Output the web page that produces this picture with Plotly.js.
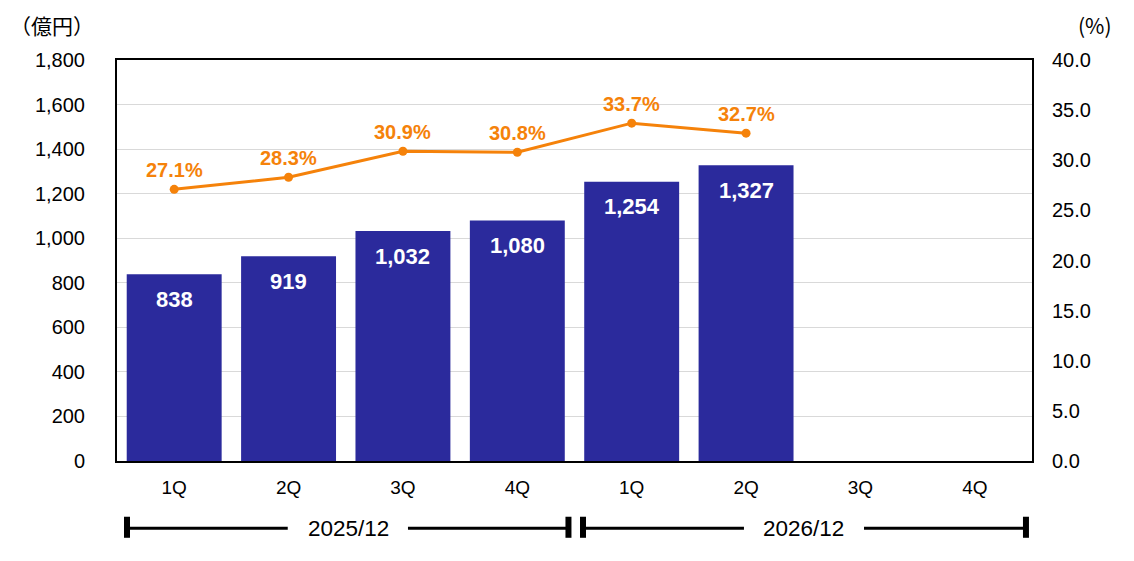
<!DOCTYPE html>
<html>
<head>
<meta charset="utf-8">
<script src="https://cdn.plot.ly/plotly-3.0.1.min.js"></script>
<style>html,body{margin:0;padding:0;background:#fff;}#chart{width:1134px;height:561px;}</style>
</head>
<body>
<div id="chart"></div>
<script>
// ---- data ----
var quarterLabels = ['1Q', '2Q', '3Q', '4Q', '1Q', '2Q', '3Q', '4Q'];
var fiscalYears = ['2025/12', '2026/12'];
var salesValues = [838, 919, 1032, 1080, 1254, 1327];       // 億円
var ratioValues = [27.1, 28.3, 30.9, 30.8, 33.7, 32.7];     // %
var leftTicks = [0, 200, 400, 600, 800, 1000, 1200, 1400, 1600, 1800];
var rightTicks = [0, 5, 10, 15, 20, 25, 30, 35, 40];

// ---- styling ----
var FONT = 'Arial, "Liberation Sans", sans-serif';
var CJK = '"Noto Sans CJK JP", Arial, sans-serif';
var BAR = '#2B2A9C';
var ORANGE = '#F5820A';

var xs = salesValues.map(function (_, i) { return i; });
var xr = ratioValues.map(function (_, i) { return i; });

var traces = [
  {
    type: 'bar', x: xs, y: salesValues, marker: { color: BAR },
    hoverinfo: 'none', showlegend: false
  },
  {
    type: 'scatter', mode: 'lines+markers', x: xr, y: ratioValues, yaxis: 'y2',
    line: { color: ORANGE, width: 3 }, marker: { color: ORANGE, size: 9 },
    hoverinfo: 'none', showlegend: false
  }
];

var annotations = [];
salesValues.forEach(function (v, i) {
  annotations.push({
    x: i, y: v, xref: 'x', yref: 'y', yanchor: 'middle', yshift: -25,
    text: v.toLocaleString('en-US'), showarrow: false,
    font: { family: FONT, size: 22, color: '#fff', weight: 'bold' }
  });
});
ratioValues.forEach(function (v, i) {
  annotations.push({
    x: i, y: v, xref: 'x', yref: 'y2', yanchor: 'middle', yshift: 19,
    text: v.toFixed(1) + '%', showarrow: false,
    font: { family: FONT, size: 20, color: ORANGE, weight: 'bold' }
  });
});
// unit labels
annotations.push({ xref: 'paper', yref: 'paper', x: -0.071, y: 1.087, xanchor: 'center', yanchor: 'middle',
  text: '（億円）', showarrow: false, font: { family: CJK, size: 21, color: '#000' } });
annotations.push({ xref: 'paper', yref: 'paper', x: 1.0688, y: 1.087, xanchor: 'center', yanchor: 'middle',
  text: '(%)', showarrow: false, font: { family: CJK, size: 21, color: '#000' } });

// fiscal year brackets (paper coords)
var bracketY = -0.168, capTop = -0.139, capBot = -0.1915;
var brackets = [
  { a: 0.0109, b: 0.4934, gapL: 0.1866, gapR: 0.318, mid: 0.253 },
  { a: 0.5093, b: 0.9934, gapL: 0.6852, gapR: 0.8164, mid: 0.7508 }
];
var shapes = [];
brackets.forEach(function (br, k) {
  shapes.push({ type: 'line', xref: 'paper', yref: 'paper', x0: br.a, x1: br.gapL, y0: bracketY, y1: bracketY, line: { color: '#000', width: 3 } });
  shapes.push({ type: 'line', xref: 'paper', yref: 'paper', x0: br.gapR, x1: br.b, y0: bracketY, y1: bracketY, line: { color: '#000', width: 3 } });
  shapes.push({ type: 'line', xref: 'paper', yref: 'paper', x0: br.a, x1: br.a, y0: capTop, y1: capBot, line: { color: '#000', width: 6 } });
  shapes.push({ type: 'line', xref: 'paper', yref: 'paper', x0: br.b, x1: br.b, y0: capTop, y1: capBot, line: { color: '#000', width: 6 } });
  annotations.push({ xref: 'paper', yref: 'paper', x: br.mid, y: bracketY, xanchor: 'center', yanchor: 'middle',
    text: fiscalYears[k], showarrow: false, font: { family: FONT, size: 22.5, color: '#000' } });
});

var layout = {
  width: 1134, height: 561,
  margin: { l: 117, r: 102, t: 60, b: 100 },
  paper_bgcolor: '#fff', plot_bgcolor: '#fff',
  font: { family: FONT, size: 20, color: '#000' },
  bargap: 0.17,
  showlegend: false,
  xaxis: {
    range: [-0.5, 7.5], tickmode: 'array',
    tickvals: quarterLabels.map(function (_, i) { return i; }), ticktext: quarterLabels,
    ticks: '', ticklabelstandoff: 8, tickfont: { size: 19 },
    showgrid: false, zeroline: false,
    showline: true, mirror: true, linecolor: '#000', linewidth: 2, fixedrange: true
  },
  yaxis: {
    range: [0, 1800], tickmode: 'array', tickvals: leftTicks,
    ticktext: leftTicks.map(function (v) { return v.toLocaleString('en-US'); }),
    ticks: '', ticklabelstandoff: 26, tickfont: { size: 20 },
    showgrid: true, gridcolor: '#D9D9D9', gridwidth: 1, zeroline: false,
    showline: true, mirror: true, linecolor: '#000', linewidth: 2, fixedrange: true
  },
  yaxis2: {
    range: [0, 40], overlaying: 'y', side: 'right', tickmode: 'array', tickvals: rightTicks,
    ticktext: rightTicks.map(function (v) { return v.toFixed(1); }),
    ticks: '', ticklabelstandoff: 19, tickfont: { size: 20 },
    showgrid: false, zeroline: false, showline: false, fixedrange: true
  },
  shapes: shapes,
  annotations: annotations
};

Plotly.newPlot('chart', traces, layout, { displayModeBar: false, staticPlot: true });
</script>
</body>
</html>
